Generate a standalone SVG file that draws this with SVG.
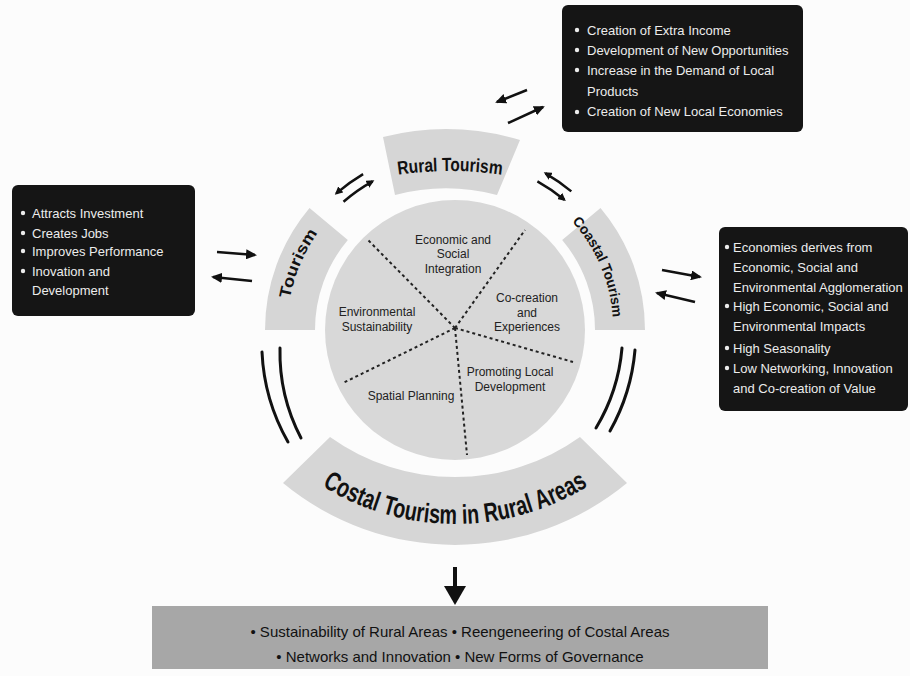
<svg xmlns="http://www.w3.org/2000/svg" width="910" height="676" viewBox="0 0 910 676">
<defs>
<marker id="ah" markerUnits="userSpaceOnUse" markerWidth="12" markerHeight="10" refX="9" refY="5" orient="auto"><path d="M0,0 L11,5 L0,10 Z" fill="#111"/></marker>
<marker id="sh" markerUnits="userSpaceOnUse" markerWidth="9" markerHeight="8" refX="6" refY="4" orient="auto"><path d="M0,0 L8,4 L0,8 Z" fill="#111"/></marker>
<path id="pRural" d="M329.3,192.3 A353,353 0 0 1 570.7,192.3"/>
<path id="pTour" d="M287.2,338.9 A168,168 0 0 1 344.8,203.2"/>
<path id="pCoast" d="M559.1,208.9 A158,158 0 0 1 612.9,335.5"/>
<path id="pBottom" d="M236.8,398 A252,252 0 0 0 673.2,398"/>
</defs>
<style>
.seg{fill:#d6d6d6}
.box{fill:#151515}
.bt{font-family:"Liberation Sans",Arial,sans-serif;font-size:13px;fill:#ececec}
.ct{font-family:"Liberation Sans",Arial,sans-serif;font-size:12px;fill:#222;text-anchor:middle}
.lab{font-family:"Liberation Sans",Arial,sans-serif;font-weight:bold;fill:#111}
.dash{stroke:#222;stroke-width:2;stroke-dasharray:3 3;fill:none}
.arr{stroke:#111;stroke-width:2.5;fill:none}
.arc{stroke:#111;stroke-width:3;fill:none;stroke-linecap:round}
.dot{fill:#ececec}
</style>
<rect width="910" height="676" fill="#fcfcfc"/>

<g id="core">
<circle cx="455" cy="330" r="130" fill="#d8d8d8"/>
<line class="dash" x1="455" y1="328" x2="368" y2="240"/>
<line class="dash" x1="455" y1="328" x2="525" y2="230"/>
<line class="dash" x1="455" y1="328" x2="573" y2="362"/>
<line class="dash" x1="455" y1="328" x2="343" y2="383"/>
<line class="dash" x1="455" y1="328" x2="467" y2="455"/>
<text class="ct" x="453" y="244">Economic and</text>
<text class="ct" x="453" y="258">Social</text>
<text class="ct" x="453" y="273">Integration</text>
<text class="ct" x="527" y="302">Co-creation</text>
<text class="ct" x="527" y="317">and</text>
<text class="ct" x="527" y="331">Experiences</text>
<text class="ct" x="377" y="316">Environmental</text>
<text class="ct" x="377" y="331">Sustainability</text>
<text class="ct" x="411" y="400">Spatial Planning</text>
<text class="ct" x="510" y="376">Promoting Local</text>
<text class="ct" x="510" y="391">Development</text>
</g>

<g id="rural-tourism">
<path class="seg" d="M383,137 A260,260 0 0 1 520,140 L497,195 A200,200 0 0 0 395,195 Z"/>
<text class="lab" font-size="19"><textPath href="#pRural" startOffset="50%" text-anchor="middle" textLength="104" lengthAdjust="spacingAndGlyphs">Rural Tourism</textPath></text>
</g>

<g id="tourism">
<path class="seg" d="M265,330 A190,190 0 0 1 309.5,207.9 L347.8,240 A140,140 0 0 0 315,330 Z"/>
<text class="lab" font-size="16"><textPath href="#pTour" startOffset="50%" text-anchor="middle" textLength="72" lengthAdjust="spacingAndGlyphs">Tourism</textPath></text>
</g>

<g id="coastal-tourism">
<path class="seg" d="M600.5,207.9 A190,190 0 0 1 645,330 L595,330 A140,140 0 0 0 562.2,240 Z"/>
<text class="lab" font-size="14"><textPath href="#pCoast" startOffset="50%" text-anchor="middle" textLength="106" lengthAdjust="spacingAndGlyphs">Coastal Tourism</textPath></text>
</g>

<g id="costal-rural">
<path class="seg" d="M330,437 A215,215 0 0 0 580,437 L627,483 A270,270 0 0 1 283,483 Z"/>
<text class="lab" font-size="27"><textPath href="#pBottom" startOffset="50%" text-anchor="middle" textLength="280" lengthAdjust="spacingAndGlyphs">Costal Tourism in Rural Areas</textPath></text>
</g>

<g id="box-rural">
<rect class="box" x="562" y="5" width="241" height="127" rx="6"/>
<circle class="dot" cx="577" cy="30" r="2.2"/>
<circle class="dot" cx="577" cy="50" r="2.2"/>
<circle class="dot" cx="577" cy="70" r="2.2"/>
<circle class="dot" cx="577" cy="112" r="2.2"/>
<text class="bt" x="587" y="34.5">Creation of Extra Income</text>
<text class="bt" x="587" y="54.5">Development of New Opportunities</text>
<text class="bt" x="587" y="74.5">Increase in the Demand of Local</text>
<text class="bt" x="587" y="96">Products</text>
<text class="bt" x="587" y="116">Creation of New Local Economies</text>
</g>

<g id="box-tourism">
<rect class="box" x="12" y="185" width="183" height="131" rx="6"/>
<circle class="dot" cx="23" cy="213" r="2.2"/>
<circle class="dot" cx="23" cy="233" r="2.2"/>
<circle class="dot" cx="23" cy="251" r="2.2"/>
<circle class="dot" cx="23" cy="271" r="2.2"/>
<text class="bt" x="32" y="217.5">Attracts Investment</text>
<text class="bt" x="32" y="237.5">Creates Jobs</text>
<text class="bt" x="32" y="255.5">Improves Performance</text>
<text class="bt" x="32" y="275.5">Inovation and</text>
<text class="bt" x="32" y="294.5">Development</text>
</g>

<g id="box-coastal">
<rect class="box" x="719" y="227" width="189" height="184" rx="6"/>
<circle class="dot" cx="727" cy="247" r="2.2"/>
<circle class="dot" cx="727" cy="306" r="2.2"/>
<circle class="dot" cx="727" cy="348" r="2.2"/>
<circle class="dot" cx="727" cy="368" r="2.2"/>
<text class="bt" x="733" y="251.5">Economies derives from</text>
<text class="bt" x="733" y="271.5">Economic, Social and</text>
<text class="bt" x="733" y="291.5">Environmental Agglomeration</text>
<text class="bt" x="733" y="310.5">High Economic, Social and</text>
<text class="bt" x="733" y="330.5">Environmental Impacts</text>
<text class="bt" x="733" y="352.5">High Seasonality</text>
<text class="bt" x="733" y="372.5">Low Networking, Innovation</text>
<text class="bt" x="733" y="392.5">and Co-creation of Value</text>
</g>

<g id="outcomes">
<rect x="152" y="606" width="616" height="63" fill="#a7a7a7"/>
<text font-family="Liberation Sans, Arial, sans-serif" font-size="15" fill="#111" text-anchor="middle" x="460" y="637">• Sustainability of Rural Areas • Reengeneering of Costal Areas</text>
<text font-family="Liberation Sans, Arial, sans-serif" font-size="15" fill="#111" text-anchor="middle" x="460" y="662">• Networks and Innovation • New Forms of Governance</text>
</g>

<g id="connectors">
<line class="arr" x1="527" y1="90" x2="497" y2="102" marker-end="url(#ah)"/>
<line class="arr" x1="508" y1="123" x2="543" y2="107" marker-end="url(#ah)"/>
<line class="arr" x1="217" y1="252" x2="255" y2="255" marker-end="url(#ah)"/>
<line class="arr" x1="252" y1="281" x2="213" y2="277" marker-end="url(#ah)"/>
<line class="arr" x1="662" y1="270" x2="700" y2="277" marker-end="url(#ah)"/>
<line class="arr" x1="695" y1="302" x2="657" y2="293" marker-end="url(#ah)"/>
<path class="arr" d="M363.1,174.1 A181,181 0 0 0 336.3,193.4" marker-end="url(#sh)"/>
<path class="arr" d="M343.5,201.7 A170,170 0 0 1 372.6,181.3" marker-end="url(#sh)"/>
<path class="arr" d="M571.3,191.4 A181,181 0 0 0 545.5,173.3" marker-end="url(#sh)"/>
<path class="arr" d="M537.4,181.3 A170,170 0 0 1 564.3,199.8" marker-end="url(#sh)"/>
<path class="arc" d="M262,352 A200,200 0 0 0 288,442"/>
<path class="arc" d="M280,348 A185,185 0 0 0 301,438"/>
<path class="arc" d="M622,348 A185,185 0 0 1 596,428"/>
<path class="arc" d="M635,350 A200,200 0 0 1 610,431"/>
<line x1="455" y1="567" x2="455" y2="590" stroke="#111" stroke-width="4"/>
<path d="M444,586 L466,586 L455,605 Z" fill="#111"/>
</g>
</svg>
